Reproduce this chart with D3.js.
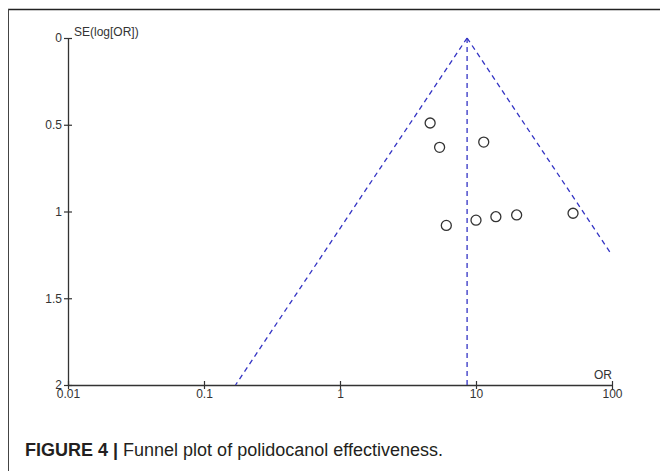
<!DOCTYPE html>
<html>
<head>
<meta charset="utf-8">
<script src="https://cdn.jsdelivr.net/npm/d3@7"></script>
<style>
  html, body { margin: 0; padding: 0; background: #fff; }
  svg { display: block; }
  .tick text { font-family: "Liberation Sans", Arial, sans-serif; font-size: 12px; fill: #333; }
  .axis-label { font-family: "Liberation Sans", Arial, sans-serif; font-size: 12px; fill: #333; }
  .caption { font-family: "Liberation Sans", Arial, sans-serif; font-size: 18px; fill: #231f20; }
</style>
</head>
<body>
<script>
// study estimates
const studyOR = [4.6, 5.4, 11.4, 6.05, 10.0, 14.0, 19.9, 51.7];
const studySE = [0.49, 0.63, 0.60, 1.08, 1.05, 1.03, 1.02, 1.01];
const pooledOR = 8.6;

const xTicks = [0.01, 0.1, 1, 10, 100];
const yTicks = [0, 0.5, 1, 1.5, 2];

const width = 660, height = 471;
const margin = { top: 38, right: 48, bottom: 86, left: 68 };
const innerWidth = width - margin.left - margin.right;
const innerHeight = height - margin.top - margin.bottom;

const svg = d3.select("body").append("svg")
    .attr("width", width)
    .attr("height", height);

// figure frame (top and left edges only)
svg.append("line").attr("x1", 8).attr("x2", width).attr("y1", 9.5).attr("y2", 9.5)
    .attr("stroke", "#222").attr("stroke-width", 1.5);
svg.append("line").attr("x1", 8.5).attr("x2", 8.5).attr("y1", 9).attr("y2", height)
    .attr("stroke", "#444").attr("stroke-width", 1);

const g = svg.append("g")
    .attr("transform", `translate(${margin.left}, ${margin.top})`);

const x = d3.scaleLog().domain([0.01, 100]).range([0, innerWidth]);
const y = d3.scaleLinear().domain([0, 2]).range([0, innerHeight]);

const xAxis = d3.axisBottom(x)
    .tickValues(xTicks)
    .tickFormat(d => String(d))
    .tickSize(4)
    .tickSizeOuter(0);
const yAxis = d3.axisLeft(y)
    .tickValues(yTicks)
    .tickFormat(d => String(d))
    .tickSize(4)
    .tickSizeOuter(0);

const xg = g.append("g").attr("transform", `translate(0, ${innerHeight})`).call(xAxis);
const yg = g.append("g").call(yAxis);

[xg, yg].forEach(a => {
    a.select(".domain").attr("stroke", "#333").attr("stroke-width", 1.3);
    a.selectAll(".tick line").attr("stroke", "#333").attr("stroke-width", 1.2);
});
// ticks cross the axis
xg.selectAll(".tick line").attr("y1", -4).attr("y2", 4);
xg.selectAll(".tick text").attr("y", 4).attr("dy", "0.71em");
yg.selectAll(".tick line").attr("x1", -4).attr("x2", 4);
yg.selectAll(".tick text").attr("x", -6);

g.append("text").attr("class", "axis-label")
    .attr("x", 6).attr("y", -2)
    .text("SE(log[OR])");
g.append("text").attr("class", "axis-label")
    .attr("x", innerWidth).attr("y", innerHeight - 6)
    .attr("text-anchor", "end")
    .text("OR");

// funnel limits (pooled OR ± 1.96 SE on the log scale)
const blue = "#3333c4";
const lowerEnd = pooledOR * Math.exp(-1.96 * 2);
const upperSE = Math.log(100 / pooledOR) / 1.96;
const funnel = [
    [[pooledOR, 0], [lowerEnd, 2]],
    [[pooledOR, 0], [100, upperSE]],
    [[pooledOR, 0], [pooledOR, 2]]
];
const line = d3.line().x(d => x(d[0])).y(d => y(d[1]));
g.selectAll("path.funnel")
    .data(funnel).enter()
    .append("path")
    .attr("class", "funnel")
    .attr("d", line)
    .attr("fill", "none")
    .attr("stroke", blue)
    .attr("stroke-width", 1.3)
    .attr("stroke-dasharray", "5,4");

g.selectAll("circle.study")
    .data(studyOR.map((d, i) => ({ or: d, se: studySE[i] }))).enter()
    .append("circle")
    .attr("class", "study")
    .attr("cx", d => x(d.or))
    .attr("cy", d => y(d.se))
    .attr("r", 5)
    .attr("fill", "none")
    .attr("stroke", "#333")
    .attr("stroke-width", 1.3);

const cap = svg.append("text").attr("class", "caption")
    .attr("x", 25).attr("y", 456);
cap.append("tspan").attr("font-weight", "bold").text("FIGURE 4 | ");
cap.append("tspan").text("Funnel plot of polidocanol effectiveness.");
</script>
</body>
</html>
